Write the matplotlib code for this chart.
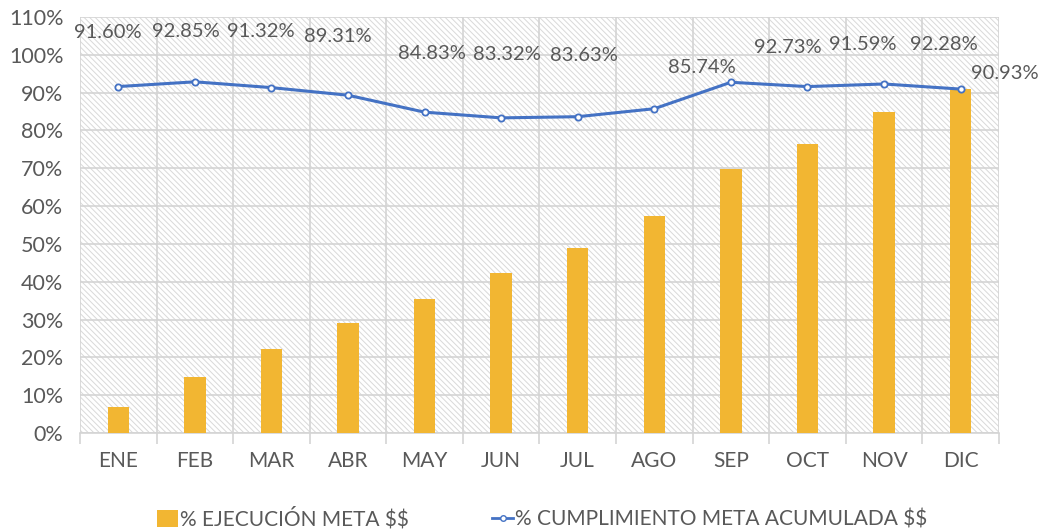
import matplotlib
matplotlib.use("Agg")
import matplotlib.pyplot as plt
from matplotlib.patches import Rectangle
from matplotlib.ticker import PercentFormatter, FixedLocator
from matplotlib.lines import Line2D
from matplotlib.patches import Patch

plt.rcParams['font.family'] = ['Lato', 'DejaVu Sans']
plt.rcParams['hatch.color'] = '#d9d9d9'
plt.rcParams['hatch.linewidth'] = 0.7

meses = ['ENE', 'FEB', 'MAR', 'ABR', 'MAY', 'JUN', 'JUL', 'AGO', 'SEP', 'OCT', 'NOV', 'DIC']
ejecucion = [7.0, 14.7, 22.1, 29.1, 35.3, 42.4, 49.0, 57.4, 69.9, 76.4, 85.0, 90.9]
cumplimiento = [91.60, 92.85, 91.32, 89.31, 84.83, 83.32, 83.63, 85.74, 92.73, 91.59, 92.28, 90.93]

# desplazamiento de cada etiqueta respecto a su punto (pixeles)
offsets = [(-10, 54), (-9, 50), (-11, 56), (-10, 59), (7, 59), (6, 63), (6, 61),
           (48, 41), (57, 35), (55, 42), (60, 39), (44, 16)]

GRIS = '#595959'
ORO = '#F2B632'
AZUL = '#4472C4'

fig = plt.figure(figsize=(10.43, 5.30), dpi=100)
ax = fig.add_axes([0.0767, 0.183, 0.881, 0.785])

x = range(len(meses))
ax.set_xlim(-0.5, len(meses) - 0.5)
ax.set_ylim(0, 110)

# fondo rayado
ax.add_patch(Rectangle((0, 0), 1, 1, transform=ax.transAxes, facecolor='white',
                       hatch='\\' * 6, edgecolor='#d9d9d9', linewidth=0, zorder=0))

ax.bar(x, ejecucion, width=0.28, color=ORO, zorder=3)
ax.plot(x, cumplimiento, color=AZUL, linewidth=2.2, marker='o', markersize=4.5,
        markerfacecolor='white', markeredgecolor=AZUL, markeredgewidth=1.3, zorder=4)

for i, v in enumerate(cumplimiento):
    dx, dy = offsets[i]
    ax.annotate(f'{v:.2f}%', (i, v), xytext=(dx, dy), textcoords='offset pixels',
                ha='center', va='center', fontsize=14.5, color=GRIS, zorder=5)

ax.yaxis.set_major_locator(FixedLocator(range(0, 111, 10)))
ax.yaxis.set_major_formatter(PercentFormatter(decimals=0))
ax.set_xticks(list(x))
ax.set_xticklabels(meses)
ax.set_xticks([i + 0.5 for i in range(-1, len(meses))], minor=True)

ax.grid(axis='y', which='major', color='#d4d4d4', linewidth=1.2, zorder=1)
ax.grid(axis='x', which='minor', color='#d4d4d4', linewidth=1.2, zorder=1)
ax.set_axisbelow(True)

ax.tick_params(axis='x', which='major', length=0, pad=13, labelsize=15, labelcolor=GRIS)
ax.tick_params(axis='x', which='minor', length=8, color='#d4d4d4', width=1.2)
ax.tick_params(axis='y', length=0, pad=12, labelsize=15.5, labelcolor=GRIS)

for lado in ['top', 'right', 'left']:
    ax.spines[lado].set_visible(False)
ax.spines['bottom'].set_color('#d4d4d4')
ax.spines['bottom'].set_linewidth(1.2)

handles = [Patch(facecolor=ORO, edgecolor='none'),
           Line2D([0], [0], color=AZUL, linewidth=2, marker='o', markersize=4,
                  markerfacecolor='white', markeredgecolor=AZUL)]
fig.legend(handles, [r'% EJECUCIÓN META \$\$', r'% CUMPLIMIENTO META ACUMULADA \$\$'],
           loc='center', bbox_to_anchor=(0.52, 0.022), ncol=2, frameon=False,
           fontsize=15, labelcolor=GRIS, handlelength=1.0, handletextpad=0.1,
           handleheight=0.9, columnspacing=4.0)

fig.savefig('out.png', dpi=100)
